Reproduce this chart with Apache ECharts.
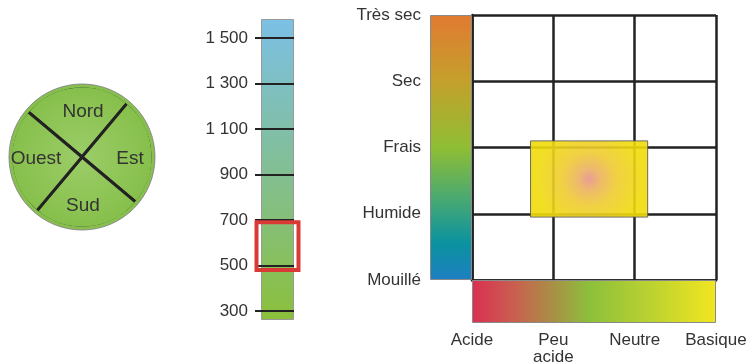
<!DOCTYPE html>
<html><head><meta charset="utf-8">
<script src="https://cdn.jsdelivr.net/npm/echarts@6/dist/echarts.min.js"></script>
<style>html,body{margin:0;padding:0;background:#fff}#c{width:750px;height:362px}</style>
</head><body><div id="c"></div>
<script>
// ---- data ----
const directions = ['Nord', 'Est', 'Sud', 'Ouest'];
const directionShares = [1, 1, 1, 1];
const altitudeTicks = [300, 500, 700, 900, 1100, 1300, 1500];
const altitudeRange = [260, 1583];
const altitudeSelected = [480, 690];
const humidityLabels = ['Mouillé', 'Humide', 'Frais', 'Sec', 'Très sec'];
const phLabels = ['Acide', 'Peu\nacide', 'Neutre', 'Basique'];
const optimumPh = [0.72, 2.16];
const optimumHumidity = [0.95, 2.1];

const FONT = 'Liberation Sans, Arial, Helvetica, sans-serif';
const TXT = '#333';
const G = echarts.graphic;

const chart = echarts.init(document.getElementById('c'), null, {renderer: 'canvas'});

const fmtAlt = v => String(v).replace(/(\d)(\d{3})$/, '$1 $2');

const compassFill = {type: 'radial', x: 82, y: 157, r: 72, global: true,
  colorStops: [{offset: 0, color: '#9ccd68'}, {offset: 1, color: '#86bf4b'}]};

const option = {
  animation: false,
  textStyle: {fontFamily: FONT},
  grid: [
    {left: 261, top: 19, width: 33, height: 301, outerBoundsMode: 'none', containLabel: false},
    {left: 430, top: 15, width: 42, height: 265, outerBoundsMode: 'none', containLabel: false},
    {left: 472, top: 15, width: 244, height: 265, outerBoundsMode: 'none', containLabel: false},
    {left: 472, top: 280, width: 244, height: 43, outerBoundsMode: 'none', containLabel: false}
  ],
  xAxis: [
    {gridIndex: 0, type: 'category', data: ['alt'], show: false},
    {gridIndex: 1, type: 'category', data: ['hum'], show: false},
    {gridIndex: 2, type: 'value', min: 0, max: phLabels.length - 1, interval: 1,
      axisLabel: {show: false}, axisTick: {show: false},
      axisLine: {show: true, lineStyle: {color: '#222', width: 2.5}},
      splitLine: {show: true, lineStyle: {color: '#222', width: 2.5}}},
    {gridIndex: 3, type: 'value', min: 0, max: phLabels.length - 1, interval: 1,
      axisLine: {show: false}, axisTick: {show: false}, splitLine: {show: false},
      axisLabel: {margin: 9, fontSize: 17, color: TXT, fontFamily: FONT, lineHeight: 17,
        formatter: v => phLabels[Math.round(v)]}}
  ],
  yAxis: [
    {gridIndex: 0, type: 'value', min: altitudeRange[0], max: altitudeRange[1], startValue: altitudeRange[0],
      offset: 6, z: 3,
      axisLine: {show: false}, splitLine: {show: false},
      axisTick: {show: true, inside: true, length: 39, customValues: altitudeTicks,
        lineStyle: {color: '#222', width: 2}},
      axisLabel: {customValues: altitudeTicks, margin: 7, fontSize: 17, color: TXT, fontFamily: FONT,
        formatter: fmtAlt}},
    {gridIndex: 1, type: 'value', min: 0, max: humidityLabels.length - 1, interval: 1,
      axisLine: {show: false}, axisTick: {show: false}, splitLine: {show: false},
      axisLabel: {margin: 9, fontSize: 17, color: TXT, fontFamily: FONT,
        formatter: v => humidityLabels[Math.round(v)]}},
    {gridIndex: 2, type: 'value', min: 0, max: humidityLabels.length - 1, interval: 1,
      axisLabel: {show: false}, axisTick: {show: false},
      axisLine: {show: true, lineStyle: {color: '#222', width: 2.5}},
      splitLine: {show: true, lineStyle: {color: '#222', width: 2.5}}},
    {gridIndex: 3, type: 'category', data: ['ph'], show: false}
  ],
  series: [
    // compass
    {type: 'pie', center: [82, 157], radius: 71, startAngle: 140, silent: true, z: 2,
      label: {show: false}, labelLine: {show: false},
      itemStyle: {color: compassFill, borderColor: '#222', borderWidth: 3},
      data: directions.map((d, i) => ({name: d, value: directionShares[i]}))},
    {type: 'pie', center: [82, 157], radius: [69.5, 73], silent: true, z: 3,
      label: {show: false}, labelLine: {show: false},
      itemStyle: {color: '#87bf4c', borderWidth: 0},
      data: [{name: 'rim', value: 1}]},
    {type: 'pie', center: [82, 157], radius: 73, silent: true, z: 4,
      label: {show: false}, labelLine: {show: false},
      itemStyle: {color: 'rgba(0,0,0,0)', borderColor: '#8f8f8f', borderWidth: 1},
      data: [{name: 'outline', value: 1}]},
    {type: 'pie', center: [83, 159], radius: 88, startAngle: 135, silent: true, z: 5,
      itemStyle: {color: 'rgba(0,0,0,0)', borderWidth: 0},
      label: {show: true, position: 'inside', fontSize: 19, color: TXT, fontFamily: FONT,
        formatter: '{b}'},
      labelLine: {show: false},
      data: directions.map((d, i) => ({name: d, value: directionShares[i]}))},
    // altitude bar
    {type: 'bar', xAxisIndex: 0, yAxisIndex: 0, barWidth: '100%', silent: true, z: 2,
      itemStyle: {borderColor: '#9a9a9a', borderWidth: 1,
        color: new G.LinearGradient(0, 0, 0, 1, [
          {offset: 0, color: '#7cc0e6'}, {offset: 0.35, color: '#80bfac'},
          {offset: 0.65, color: '#85bf7c'}, {offset: 1, color: '#8bc03a'}])},
      data: [altitudeRange[1]]},
    // selected altitude window
    {type: 'custom', xAxisIndex: 0, yAxisIndex: 0, silent: true, z: 6,
      renderItem: (params, api) => {
        const top = api.coord([0, api.value(2)]);
        const bot = api.coord([0, api.value(1)]);
        return {type: 'rect', shape: {x: top[0] - 21, y: top[1], width: 42, height: bot[1] - top[1]},
          style: {fill: 'none', stroke: '#d93a36', lineWidth: 4}};
      },
      data: [[0, altitudeSelected[0], altitudeSelected[1]]]},
    // humidity bar
    {type: 'bar', xAxisIndex: 1, yAxisIndex: 1, barWidth: '100%', silent: true,
      itemStyle: {borderColor: '#8a8a8a', borderWidth: 1,
        color: new G.LinearGradient(0, 0, 0, 1, [
          {offset: 0, color: '#e17a31'}, {offset: 0.25, color: '#c4a02b'},
          {offset: 0.5, color: '#8fbe34'}, {offset: 0.72, color: '#3fa67a'},
          {offset: 0.86, color: '#0b929f'}, {offset: 1, color: '#1e7fc2'}])},
      data: [humidityLabels.length - 1]},
    // pH bar
    {type: 'bar', xAxisIndex: 3, yAxisIndex: 3, barWidth: '100%', silent: true,
      itemStyle: {borderColor: '#8a8a8a', borderWidth: 1,
        color: new G.LinearGradient(0, 0, 1, 0, [
          {offset: 0, color: '#da2f52'}, {offset: 0.18, color: '#c8614f'},
          {offset: 0.33, color: '#a98f45'}, {offset: 0.48, color: '#8cc03b'},
          {offset: 0.72, color: '#b9d131'}, {offset: 1, color: '#f2e620'}])},
      data: [phLabels.length - 1]},
    // optimum zone
    {type: 'custom', xAxisIndex: 2, yAxisIndex: 2, silent: true, z: 6,
      renderItem: (params, api) => {
        const p1 = api.coord([api.value(0), api.value(3)]);
        const p2 = api.coord([api.value(1), api.value(2)]);
        return {type: 'rect',
          shape: {x: p1[0], y: p1[1], width: p2[0] - p1[0], height: p2[1] - p1[1]},
          style: {
            fill: new G.RadialGradient(0.5, 0.5, 0.7, [
              {offset: 0, color: '#e8928a'}, {offset: 0.2, color: '#ecb25e'},
              {offset: 0.5, color: '#efcc30'}, {offset: 1, color: '#f1dc0c'}]),
            stroke: '#5a5a5a', lineWidth: 1, opacity: 0.9}};
      },
      data: [[optimumPh[0], optimumPh[1], optimumHumidity[0], optimumHumidity[1]]]}
  ]
};
chart.setOption(option);
</script></body></html>
